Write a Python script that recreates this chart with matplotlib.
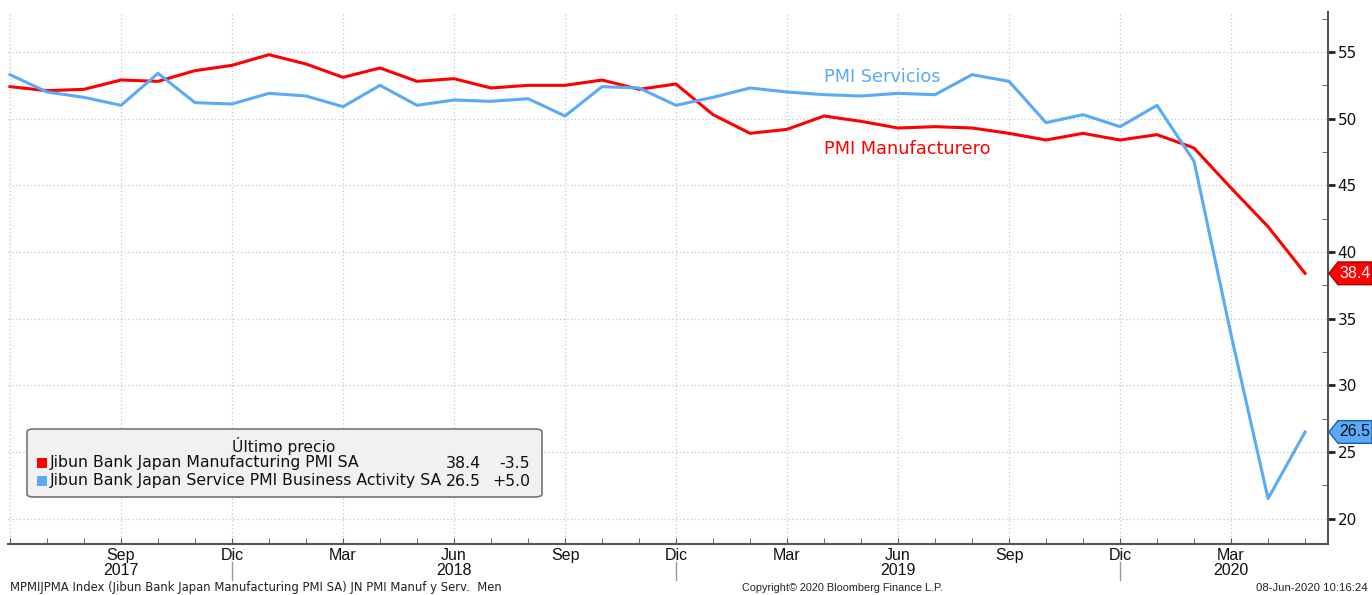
import numpy as np
import matplotlib
matplotlib.use('Agg')
from matplotlib import pyplot as plt
from matplotlib.patches import FancyBboxPatch, Rectangle, Polygon
from matplotlib.transforms import blended_transform_factory

W, H = 1372, 595

# monthly data, Jun 2017 .. May 2020
months = ['Jun', 'Jul', 'Ago', 'Sep', 'Oct', 'Nov', 'Dic', 'Ene', 'Feb', 'Mar', 'Abr', 'May']
manuf = [52.4, 52.1, 52.2, 52.9, 52.8, 53.6, 54.0, 54.8, 54.1, 53.1, 53.8, 52.8,
         53.0, 52.3, 52.5, 52.5, 52.9, 52.2, 52.6, 50.3, 48.9, 49.2, 50.2, 49.8,
         49.3, 49.4, 49.3, 48.9, 48.4, 48.9, 48.4, 48.8, 47.8, 44.8, 41.9, 38.4]
serv = [53.3, 52.0, 51.6, 51.0, 53.4, 51.2, 51.1, 51.9, 51.7, 50.9, 52.5, 51.0,
        51.4, 51.3, 51.5, 50.2, 52.4, 52.3, 51.0, 51.6, 52.3, 52.0, 51.8, 51.7,
        51.9, 51.8, 53.3, 52.8, 49.7, 50.3, 49.4, 51.0, 46.8, 33.8, 21.5, 26.5]

tick_pos = [0, 3, 6, 9, 12, 15, 18, 21, 24, 27, 30, 33]
tick_lab = ['', 'Sep\n2017', 'Dic', 'Mar', 'Jun\n2018', 'Sep', 'Dic', 'Mar',
            'Jun\n2019', 'Sep', 'Dic', 'Mar\n2020']
year_sep = [6, 18, 30]

red = '#ff0000'
blue = '#5aaaf8'
axcol = '#555555'
narrow = ['Liberation Sans', 'DejaVu Sans']

def fx(px):
	return px / W

def fy(py):
	return 1 - py / H

fig = plt.figure(figsize=(W/100, H/100), dpi=100)
ax = fig.add_axes([fx(8), fy(544), fx(1328) - fx(8), (544 - 12) / H])

x = np.arange(len(manuf))
ax.plot(x, manuf, color=red, lw=2.2, zorder=3)
ax.plot(x, serv, color=blue, lw=2.2, zorder=3)

ax.set_xlim(-0.054, 35.62)
ax.set_ylim(18.1, 58.0)

ax.set_xticks(tick_pos)
ax.set_xticklabels(tick_lab, family=narrow, fontsize=11.5, linespacing=1.0, color='#111111')
ax.set_xticks(x, minor=True)
ax.tick_params(axis='x', which='both', direction='in', length=4, color=axcol, pad=3)

ax.yaxis.tick_right()
ax.set_yticks(np.arange(20, 56, 5))
ax.set_yticks(np.arange(22.5, 58, 5), minor=True)
ax.tick_params(axis='y', which='major', direction='out', length=5, width=2, color='#222222',
               labelsize=11, pad=2, labelcolor='#111111')
ax.tick_params(axis='y', which='minor', direction='in', length=4, color=axcol)

ax.grid(True, which='major', color='#c8c8c8', linestyle=(0, (1, 2)), linewidth=0.9)

for s in ['top', 'left']:
	ax.spines[s].set_visible(False)
for s in ['bottom', 'right']:
	ax.spines[s].set_color(axcol)
	ax.spines[s].set_linewidth(1.5)

# year separators below the axis
bt = blended_transform_factory(ax.transData, ax.transAxes)
for xs in year_sep:
	ax.plot([xs, xs], [-0.034, -0.068], color='#999999', lw=1, transform=bt, clip_on=False)

# series labels
ax.text(22.0, 53.1, 'PMI Servicios', color=blue, fontsize=12.8, va='center', ha='left')
ax.text(22.0, 47.7, 'PMI Manufacturero', color=red, fontsize=12.8, va='center', ha='left')

# last value tags on the right
tt = blended_transform_factory(fig.transFigure, ax.transData)
for val, fc, ec, tc in [(manuf[-1], red, '#a00000', 'white'), (serv[-1], blue, '#1f5fa8', '#111111')]:
	h = 0.85
	pts = [(fx(1329), val), (fx(1338), val + h), (fx(1372), val + h),
	       (fx(1372), val - h), (fx(1338), val - h)]
	ax.add_patch(Polygon(pts, closed=True, facecolor=fc, edgecolor=ec, lw=1,
	                     transform=tt, clip_on=False, zorder=5))
	ax.text(fx(1355), val, '%.1f' % val, color=tc, fontsize=11.5, ha='center', va='center',
	        family=narrow, transform=tt, zorder=6)

# legend box
box = FancyBboxPatch((fx(27), fy(497)), fx(542) - fx(27), (497 - 429) / H,
                     boxstyle='round,pad=0,rounding_size=0.005', transform=fig.transFigure,
                     facecolor='#f0f0f0', edgecolor='#666666', lw=1.2, alpha=0.9, zorder=10)
fig.patches.append(box)
fig.text(fx(284), fy(446), 'Último precio', fontsize=11.2, ha='center', va='center', color='#111111', zorder=11)
rows = [('Jibun Bank Japan Manufacturing PMI SA', red, '38.4', '-3.5', 463),
        ('Jibun Bank Japan Service PMI Business Activity SA', blue, '26.5', '+5.0', 481)]
for name, c, v, d, yp in rows:
	fig.patches.append(Rectangle((fx(37), fy(yp + 5)), fx(10), 10 / H, transform=fig.transFigure,
	                             facecolor=c, edgecolor='none', zorder=11))
	fig.text(fx(50), fy(yp), name, fontsize=11.3, ha='left', va='center', color='#111111', zorder=11)
	fig.text(fx(481), fy(yp), v, fontsize=11.3, ha='right', va='center', color='#111111', zorder=11)
	fig.text(fx(530), fy(yp), d, fontsize=11.3, ha='right', va='center', color='#111111', zorder=11)

# footer
fig.text(fx(10), fy(588), 'MPMIJPMA Index (Jibun Bank Japan Manufacturing PMI SA) JN PMI Manuf y Serv.  Men',
         fontsize=8.4, ha='left', va='center', color='#222222')
fig.text(fx(842), fy(588), 'Copyright\u00a9 2020 Bloomberg Finance L.P.', family=narrow,
         fontsize=7.8, ha='center', va='center', color='#222222')
fig.text(fx(1368), fy(588), '08-Jun-2020 10:16:24', family=narrow,
         fontsize=8.2, ha='right', va='center', color='#222222')

plt.savefig('out.png', dpi=100)
plt.close()
